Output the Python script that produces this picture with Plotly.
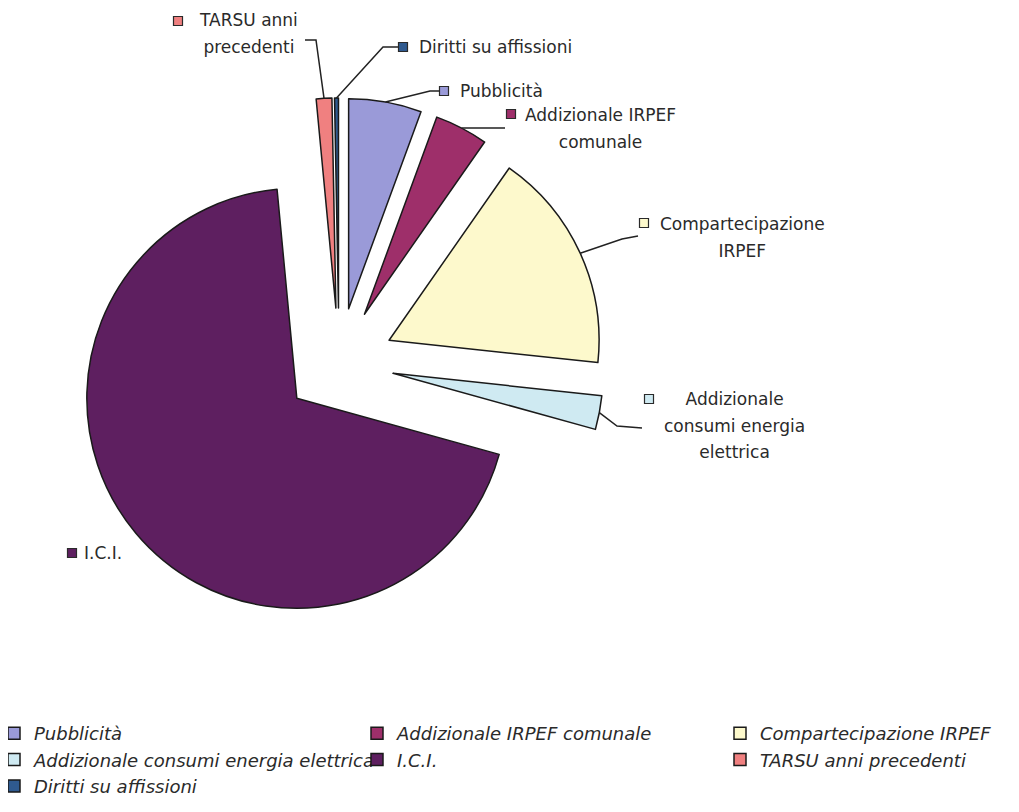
import numpy as np
import plotly.graph_objects as go

# ---------------- data ----------------
labels = ["Pubblicità", "Addizionale IRPEF comunale", "Compartecipazione IRPEF",
          "Addizionale consumi energia elettrica", "I.C.I.", "TARSU anni precedenti",
          "Diritti su affissioni"]
values = [5.6, 4.1, 17.0, 2.6, 69.2, 1.2, 0.3]
label_lines = [["Pubblicità"], ["Addizionale IRPEF", "comunale"], ["Compartecipazione", "IRPEF"],
               ["Addizionale", "consumi energia", "elettrica"], ["I.C.I."],
               ["TARSU anni", "precedenti"], ["Diritti su affissioni"]]

# ---------------- style / layout ----------------
colors = ["#9a9ad8", "#9e2f6a", "#fdf9cc", "#cfeaf2", "#5e1f60", "#f08080", "#2f5a8f"]
PULL = 0.262
OFF = 8            # default page margin of the html body
W, H = 1100, 804   # figure size (right part beyond the window is empty)
MB = 110
HP = H - MB
TXT = "#2a2a2a"
FONT = "DejaVu Sans"

# target pie centre / radius in window pixels
PIE_CX, PIE_CY, PIE_R = 339, 363, 210


def fx(px):
    return (px - OFF) / W


def fy(py):
    return (HP - (py - OFF)) / HP


half = PIE_R * (1 + PULL)
dom_x = [fx(PIE_CX - half), fx(PIE_CX + half)]
dom_y = [fy(PIE_CY + half), fy(PIE_CY - half)]

# pie geometry as plotly computes it (window pixels)
cx = W * (dom_x[0] + dom_x[1]) / 2 + OFF
cy = HP * (1 - (dom_y[0] + dom_y[1]) / 2) + OFF
r = min(W * (dom_x[1] - dom_x[0]), HP * (dom_y[1] - dom_y[0])) / (2 * (1 + PULL))
vals = np.array(values, dtype=float)
start = np.concatenate([[0], np.cumsum(vals)[:-1]])
mid_deg = (start + vals / 2) / vals.sum() * 360.0


def anchor(i):
    a = np.radians(mid_deg[i])
    rr = r * (1 + PULL)
    return cx + rr * np.sin(a), cy - rr * np.cos(a)


fig = go.Figure(go.Pie(
    labels=labels, values=values, sort=False, direction="clockwise", rotation=0,
    pull=[PULL] * len(values), textinfo="none", hoverinfo="label+percent",
    marker=dict(colors=colors, line=dict(color="#1a1a1a", width=1.5)),
    domain=dict(x=dom_x, y=dom_y),
))

# label layout (window px): text position, square centre, leader bend/end points
label_layout = {
    0: dict(x=458, y=91, xanchor="left", sq=(444, 91), lead=[(430, 91), (440, 91)]),
    1: dict(x=600, y=128, xanchor="center", sq=(511, 114), lead=[(490, 128), (505, 128)]),
    2: dict(x=742, y=237, xanchor="center", sq=(644, 223), lead=[(622, 239), (638, 236)]),
    3: dict(x=734, y=425, xanchor="center", sq=(649, 399), lead=[(617, 426), (642, 428)]),
    4: dict(x=82, y=553, xanchor="left", sq=(72, 553), lead=None),
    5: dict(x=248, y=34, xanchor="center", sq=(178, 21), lead=[(316, 40), (305, 40)]),
    6: dict(x=417, y=47, xanchor="left", sq=(403, 47), lead=[(383, 47), (398, 47)]),
}

annotations = []
shapes = []
for i, lines in enumerate(label_lines):
    L = label_layout[i]
    if len(lines) > 1:
        text = "<br>".join(f"<span style='font-size:17px'>{s}</span>" for s in lines)
        fsize = 20.5
    else:
        text = lines[0]
        fsize = 17
    annotations.append(dict(
        x=fx(L["x"]), y=fy(L["y"]), xref="paper", yref="paper", text=text,
        showarrow=False, xanchor=L["xanchor"], yanchor="middle", align="center",
        font=dict(family=FONT, size=fsize, color=TXT),
    ))
    sx, sy = L["sq"]
    shapes.append(dict(type="rect", xref="paper", yref="paper",
                       x0=fx(sx - 4.5), x1=fx(sx + 4.5), y0=fy(sy + 4.5), y1=fy(sy - 4.5),
                       fillcolor=colors[i], line=dict(color="#2a2a2a", width=1.2)))
    if L["lead"]:
        ax, ay = anchor(i)
        pts = [(ax, ay)] + L["lead"]
        path = "M " + " L ".join(f"{fx(px):.5f},{fy(py):.5f}" for px, py in pts)
        shapes.append(dict(type="path", xref="paper", yref="paper", path=path,
                           line=dict(color="#222222", width=1.5)))

fig.update_layout(
    width=W, height=H,
    margin=dict(l=0, r=0, t=0, b=MB, autoexpand=False),
    paper_bgcolor="white", plot_bgcolor="white",
    showlegend=True,
    legend=dict(orientation="h", x=-14 / W, xanchor="left", y=fy(715), yanchor="top",
                font=dict(family=FONT, size=18, style="italic", color=TXT),
                entrywidth=318, entrywidthmode="pixels", traceorder="normal",
                bgcolor="rgba(0,0,0,0)"),
    annotations=annotations, shapes=shapes,
)

fig.write_html("out.html")
